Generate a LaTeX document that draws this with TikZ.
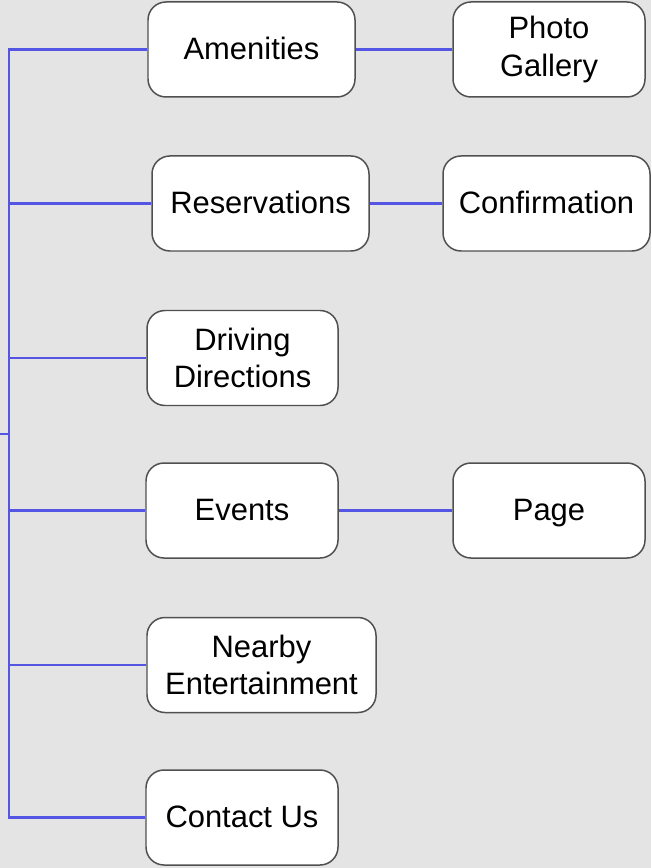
\documentclass[tikz,border=0pt]{standalone}
\usepackage{fontspec}
\setmainfont{Liberation Sans}
\definecolor{bgGray}{RGB}{228,228,228}
\definecolor{linkBlue}{RGB}{85,85,228}
\definecolor{boxGray}{RGB}{80,80,80}
\tikzset{
  page/.style={draw=boxGray, line width=0.85pt, fill=white, rounded corners=0.36cm,
    minimum height=1.9cm, inner sep=0pt, align=center,
    font=\fontsize{17.6}{21.5}\selectfont},
  oneline/.style={text height=2.7ex, text depth=0.5ex},
  link/.style={draw=linkBlue, line width=1.4pt}
}
\begin{document}
\begin{tikzpicture}
% Drawing background
\fill [bgGray] (0,0) rectangle (13.02,-17.36);
\useasboundingbox (0,0) rectangle (13.02,-17.36);

% Drawing first level pages
\node [page, oneline, minimum width=4.14cm] (amen) at (5.03,-0.99) {Amenities};
\node [page, oneline, minimum width=4.34cm] (resv) at (5.21,-4.07) {Reservations};
\node [page, minimum width=3.82cm] (drive) at (4.85,-7.16) {Driving\\Directions};
\node [page, oneline, minimum width=3.84cm] (events) at (4.84,-10.21) {Events};
\node [page, minimum width=4.58cm] (nearby) at (5.23,-13.30) {Nearby\\Entertainment};
\node [page, oneline, minimum width=3.84cm] (contact) at (4.84,-16.35) {Contact Us};

% Drawing second level pages
\node [page, minimum width=3.84cm] (photo) at (10.98,-0.99) {Photo\\Gallery};
\node [page, oneline, minimum width=4.14cm] (conf) at (10.93,-4.07) {Confirmation};
\node [page, oneline, minimum width=3.84cm] (evpage) at (10.98,-10.21) {Page};

% Drawing links
\coordinate (parent) at (0,-8.68);
\coordinate (hub) at (0.18,-8.68);
\draw [link] (parent) -- (hub);
\foreach \n in {amen,resv,drive,events,nearby,contact}
  \draw [link] (hub) |- (\n.west);
\draw [link] (amen) -- (photo);
\draw [link] (resv) -- (conf);
\draw [link] (events) -- (evpage);
\end{tikzpicture}
\end{document}
